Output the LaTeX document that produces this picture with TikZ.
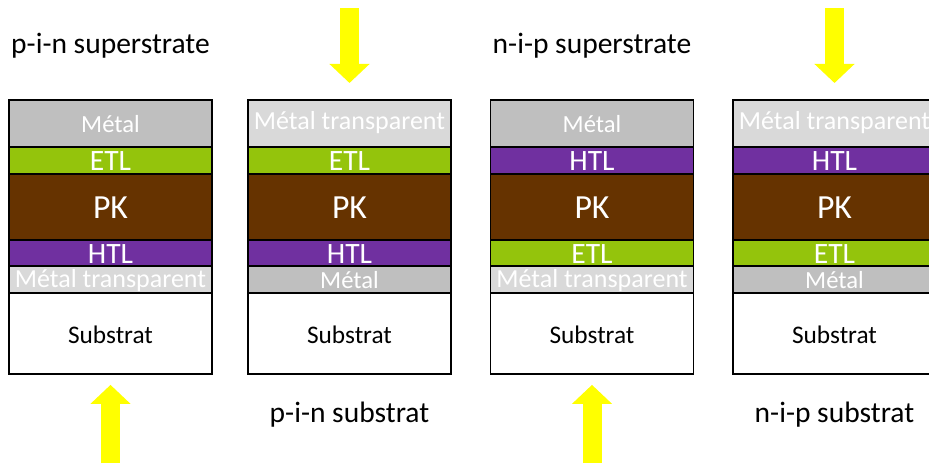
\documentclass[tikz,border=0pt]{standalone}
\usepackage{fontspec}
\setmainfont{Carlito}
\usetikzlibrary{positioning,arrows.meta}
\definecolor{metalgray}{RGB}{191,191,191}
\definecolor{tcogray}{RGB}{217,217,217}
\definecolor{etlgreen}{RGB}{148,196,12}
\definecolor{pkbrown}{RGB}{102,51,0}
\definecolor{htlpurple}{RGB}{112,48,160}
\definecolor{sunyellow}{RGB}{255,255,0}
\tikzset{
	layer/.style={rectangle,draw=black,line width=1.3pt,minimum width=5.075cm,
		inner sep=0pt,outer sep=0pt,anchor=north,text=white,text depth=0pt},
	metal/.style={layer,fill=metalgray,text height=13pt,font=\fontsize{17.5}{17.5}\selectfont},
	tco/.style={layer,fill=tcogray,text height=11pt,font=\fontsize{18.5}{18.5}\selectfont},
	etl/.style={layer,fill=etlgreen,text height=15pt,font=\fontsize{21}{21}\selectfont},
	htl/.style={layer,fill=htlpurple,text height=15pt,font=\fontsize{21}{21}\selectfont},
	pk/.style={layer,fill=pkbrown,minimum height=1.65cm,text height=17pt,
		font=\fontsize{24}{24}\selectfont},
	sub/.style={layer,fill=white,text=black,minimum height=2.025cm,text height=14pt,
		font=\fontsize{18}{18}\selectfont},
	toplayer/.style={minimum height=1.175cm},
	thin/.style={minimum height=0.665cm},
	title/.style={anchor=base,font=\fontsize{21}{21}\selectfont},
	sunbeam/.style={draw=sunyellow,line width=0.475cm,
		-{Triangle[width=0.975cm,length=0.475cm]}}
}
\begin{document}
\begin{tikzpicture}[x=0.025cm,y=-0.025cm]
	\useasboundingbox (0,0) rectangle (929,463);
	% p-i-n superstrate
	\node [metal,toplayer] (metal1) at (110.5,100) {Métal};
	\node [etl,thin,below=0pt of metal1] (etl1) {ETL};
	\node [pk,below=0pt of etl1] (pk1) {PK};
	\node [htl,thin,below=0pt of pk1] (htl1) {HTL};
	\node [tco,thin,below=0pt of htl1] (tco1) {Métal transparent};
	\node [sub,below=0pt of tco1] (sub1) {Substrat};
	% p-i-n substrat
	\node [tco,toplayer,text height=8pt] (tco2) at (349.5,100) {Métal transparent};
	\node [etl,thin,below=0pt of tco2] (etl2) {ETL};
	\node [pk,below=0pt of etl2] (pk2) {PK};
	\node [htl,thin,below=0pt of pk2] (htl2) {HTL};
	\node [metal,thin,below=0pt of htl2] (metal2) {Métal};
	\node [sub,below=0pt of metal2] (sub2) {Substrat};
	% n-i-p superstrate
	\node [metal,toplayer] (metal3) at (592,100) {Métal};
	\node [htl,thin,below=0pt of metal3] (htl3) {HTL};
	\node [pk,below=0pt of htl3] (pk3) {PK};
	\node [etl,thin,below=0pt of pk3] (etl3) {ETL};
	\node [tco,thin,below=0pt of etl3] (tco3) {Métal transparent};
	\node [sub,below=0pt of tco3] (sub3) {Substrat};
	% n-i-p substrat
	\node [tco,toplayer,text height=8pt] (tco4) at (834.5,100) {Métal transparent};
	\node [htl,thin,below=0pt of tco4] (htl4) {HTL};
	\node [pk,below=0pt of htl4] (pk4) {PK};
	\node [etl,thin,below=0pt of pk4] (etl4) {ETL};
	\node [metal,thin,below=0pt of etl4] (metal4) {Métal};
	\node [sub,below=0pt of metal4] (sub4) {Substrat};
	% titles
	\node [title] (t1) at (110.5,53) {p-i-n superstrate};
	\node [title] (t2) at (349.5,422) {p-i-n substrat};
	\node [title] (t3) at (592,53) {n-i-p superstrate};
	\node [title] (t4) at (834.5,422) {n-i-p substrat};
	% light
	\coordinate (l1) at (110.5,463);
	\coordinate (l2) at (349.5,8);
	\coordinate (l3) at (592,463);
	\coordinate (l4) at (834.5,8);
	\draw [sunbeam] (l1) -- ([yshift=-0.275cm]sub1.south);
	\draw [sunbeam] (l2) -- ([yshift=0.425cm]tco2.north);
	\draw [sunbeam] (l3) -- ([yshift=-0.275cm]sub3.south);
	\draw [sunbeam] (l4) -- ([yshift=0.425cm]tco4.north);
\end{tikzpicture}
\end{document}
